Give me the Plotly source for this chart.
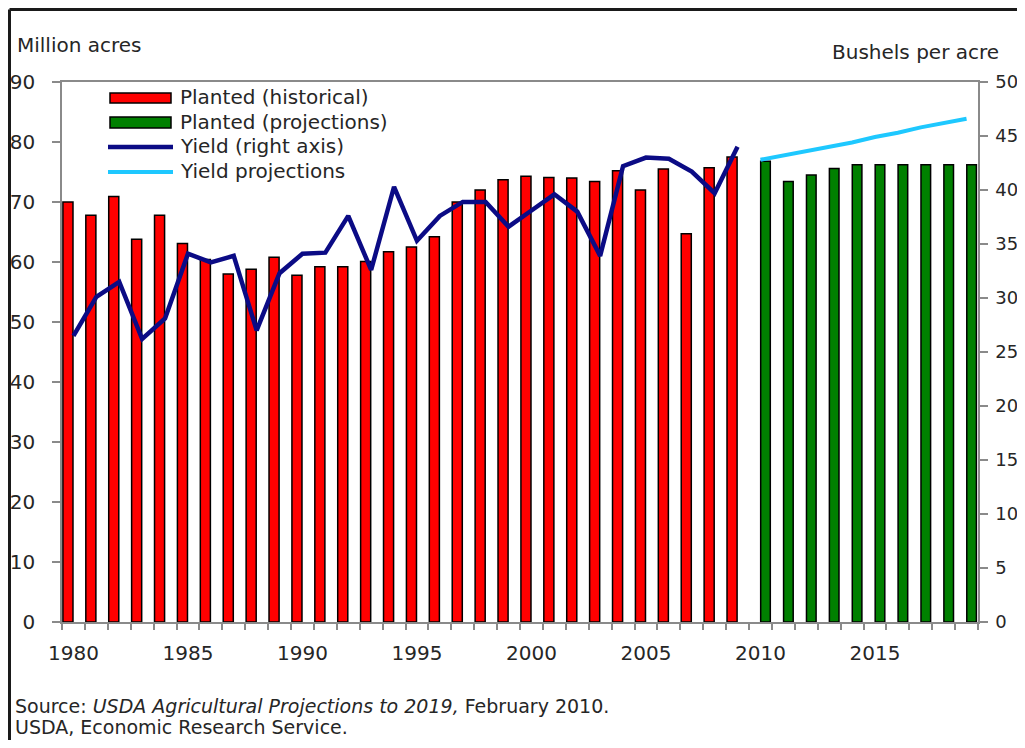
import plotly.graph_objects as go

# ---------------------------------------------------------------------------
# Data
# ---------------------------------------------------------------------------

years_hist = [1980, 1981, 1982, 1983, 1984, 1985, 1986, 1987, 1988, 1989,
              1990, 1991, 1992, 1993, 1994, 1995, 1996, 1997, 1998, 1999,
              2000, 2001, 2002, 2003, 2004, 2005, 2006, 2007, 2008, 2009]
years_proj = [2010, 2011, 2012, 2013, 2014, 2015, 2016, 2017, 2018, 2019]

planted_hist = [70.0, 67.8, 70.9, 63.8, 67.8, 63.1, 60.4, 58.0, 58.8, 60.8,
                57.8, 59.2, 59.2, 60.1, 61.7, 62.5, 64.2, 70.0, 72.0, 73.7,
                74.3, 74.1, 74.0, 73.4, 75.2, 72.0, 75.5, 64.7, 75.7, 77.5]
planted_proj = [76.8, 73.4, 74.5, 75.6, 76.2, 76.2, 76.2, 76.2, 76.2, 76.2]

yield_hist = [26.5, 30.1, 31.5, 26.2, 28.1, 34.1, 33.3, 33.9, 27.0, 32.3,
              34.1, 34.2, 37.6, 32.6, 40.3, 35.3, 37.6, 38.9, 38.9, 36.6,
              38.1, 39.6, 38.0, 33.9, 42.2, 43.0, 42.9, 41.7, 39.7, 44.0]
yield_proj = [42.8, 43.2, 43.6, 44.0, 44.4, 44.9, 45.3, 45.8, 46.2, 46.6]

x_ticks = [1980, 1985, 1990, 1995, 2000, 2005, 2010, 2015]

legend_labels = ["Planted (historical)", "Planted (projections)",
                 "Yield (right axis)", "Yield projections"]

# ---------------------------------------------------------------------------
# Styling
# ---------------------------------------------------------------------------

# the page adds an 8px body margin, so the figure is 16px smaller than the
# window and every reference pixel position is shifted by 8
OFF = 8
W, H = 1025 - 2 * OFF, 748 - 2 * OFF
L, R, T, B = 62 - OFF, 978 - OFF, 82 - OFF, 622 - OFF   # plot area

FONT = "DejaVu Sans"
TXT = "#262626"
AX = "#8a8a8a"
RED, GREEN = "#FF0000", "#008000"
NAVY, CYAN = "#0B0B85", "#1EC8FF"


def px_x(px):
    """reference-image x pixel -> paper coordinate"""
    return (px - OFF - L) / (R - L)


def px_y(py):
    """reference-image y pixel -> paper coordinate"""
    return (B - (py - OFF)) / (B - T)


fig = go.Figure()

fig.add_bar(x=years_hist, y=planted_hist, name=legend_labels[0],
            width=0.44, offset=-0.46,
            marker=dict(color=RED, line=dict(color="black", width=1.5)))
fig.add_bar(x=years_proj, y=planted_proj, name=legend_labels[1],
            width=0.42, offset=0.01,
            marker=dict(color=GREEN, line=dict(color="black", width=1.5)))
fig.add_scatter(x=years_hist, y=yield_hist, name=legend_labels[2], yaxis="y2",
                mode="lines", line=dict(color=NAVY, width=4.5))
fig.add_scatter(x=years_proj, y=yield_proj, name=legend_labels[3], yaxis="y2",
                mode="lines", line=dict(color=CYAN, width=4))

# hand-drawn legend (long swatches like the original)
shapes = [
    dict(type="rect", xref="paper", yref="paper",
         x0=px_x(110), x1=px_x(171), y0=px_y(103), y1=px_y(93),
         fillcolor=RED, line=dict(color="black", width=1.5)),
    dict(type="rect", xref="paper", yref="paper",
         x0=px_x(110), x1=px_x(171), y0=px_y(128), y1=px_y(117),
         fillcolor=GREEN, line=dict(color="black", width=1.5)),
    dict(type="line", xref="paper", yref="paper",
         x0=px_x(108), x1=px_x(173), y0=px_y(147), y1=px_y(147),
         line=dict(color=NAVY, width=4.5)),
    dict(type="line", xref="paper", yref="paper",
         x0=px_x(108), x1=px_x(173), y0=px_y(172), y1=px_y(172),
         line=dict(color=CYAN, width=4)),
    # outer frame (left and top edges)
    dict(type="line", xref="paper", yref="paper",
         x0=px_x(9.5), x1=px_x(9.5), y0=px_y(9.5), y1=px_y(760),
         line=dict(color="#1a1a1a", width=3)),
    dict(type="line", xref="paper", yref="paper",
         x0=px_x(9.5), x1=px_x(1040), y0=px_y(9.5), y1=px_y(9.5),
         line=dict(color="#1a1a1a", width=3)),
]

annotations = []
for lbl, yc in zip(legend_labels, [97, 122, 146, 171]):
    annotations.append(dict(text=lbl, xref="paper", yref="paper",
                            x=px_x(178), y=px_y(yc), xanchor="left",
                            yanchor="middle", showarrow=False,
                            font=dict(family=FONT, size=20, color=TXT)))

annotations += [
    dict(text="Million acres", xref="paper", yref="paper",
         x=px_x(15), y=px_y(45), xanchor="left", yanchor="middle",
         showarrow=False, font=dict(family=FONT, size=20, color=TXT)),
    dict(text="Bushels per acre", xref="paper", yref="paper",
         x=px_x(1001), y=px_y(52), xanchor="right", yanchor="middle",
         showarrow=False, font=dict(family=FONT, size=20, color=TXT)),
    dict(text="Source: <i>USDA Agricultural Projections to 2019,</i> February 2010.",
         xref="paper", yref="paper",
         x=px_x(13), y=px_y(706), xanchor="left", yanchor="middle",
         showarrow=False, font=dict(family=FONT, size=19, color=TXT)),
    dict(text="USDA, Economic Research Service.",
         xref="paper", yref="paper",
         x=px_x(13), y=px_y(727), xanchor="left", yanchor="middle",
         showarrow=False, font=dict(family=FONT, size=19, color=TXT)),
]

tickfont = dict(family=FONT, size=20, color=TXT)

fig.update_layout(
    width=W, height=H,
    margin=dict(l=L, r=W - R, t=T, b=H - B),
    paper_bgcolor="white", plot_bgcolor="white",
    barmode="overlay",
    showlegend=False,
    shapes=shapes,
    annotations=annotations,
    xaxis=dict(
        range=[1979.5, 2019.5], tickvals=x_ticks, ticks="",
        showline=True, linecolor=AX, linewidth=1.5, mirror=True,
        showgrid=False, zeroline=False, tickfont=tickfont,
        ticklabelstandoff=12, automargin=False,
        minor=dict(ticks="outside", ticklen=6, tickcolor=AX, tickwidth=1.5,
                   tick0=1979.5, dtick=1, showgrid=False),
    ),
    yaxis=dict(
        range=[0, 90], dtick=10, ticks="outside", ticklen=8, tickcolor=AX,
        tickwidth=1.5, showline=True, linecolor=AX, linewidth=1.5,
        showgrid=False, zeroline=False, tickfont=tickfont,
        ticklabelstandoff=13, automargin=False,
    ),
    yaxis2=dict(
        range=[0, 50], dtick=5, overlaying="y", side="right",
        ticks="outside", ticklen=8, tickcolor=AX, tickwidth=1.5,
        showline=True, linecolor=AX, linewidth=1.5,
        showgrid=False, zeroline=False,
        tickfont=dict(family=FONT, size=18, color=TXT),
        ticklabelstandoff=4, automargin=False,
    ),
)

fig.write_html("out.html")
